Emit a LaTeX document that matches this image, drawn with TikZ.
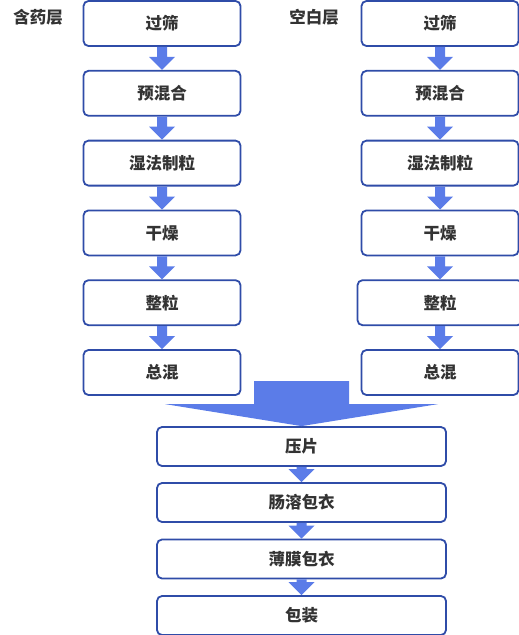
\documentclass[tikz,border=0pt]{standalone}
\usepackage{fontspec}
\newfontfamily\cjk{Noto Sans CJK SC}
\usetikzlibrary{calc}
\definecolor{arrowblue}{RGB}{91,124,232}
\definecolor{boxblue}{RGB}{47,76,168}
\definecolor{txt}{RGB}{51,51,51}
\tikzset{
  stepbox/.style={draw=boxblue, line width=1.8pt, rounded corners=5pt, fill=white,
    minimum width=157pt, minimum height=45pt, inner sep=0pt,
    font=\cjk\bfseries\fontsize{16.5}{18}\selectfont, text=txt},
  widebox/.style={stepbox, minimum width=289pt, minimum height=39pt},
  lbl/.style={font=\cjk\bfseries\fontsize{16.5}{18}\selectfont, text=txt, inner sep=0pt},
}
\newcommand{\blockarrow}[2]{%
  \fill[arrowblue] ($(#1.south)+(-5,0)$) -- ($(#1.south)+(5,0)$) --
    ($(#2.north)+(5,-13)$) -- ($(#2.north)+(13,-13)$) -- (#2.north) --
    ($(#2.north)+(-13,-13)$) -- ($(#2.north)+(-5,-13)$) -- cycle;}
\begin{document}
\begin{tikzpicture}[x=1pt,y=-1pt]
\useasboundingbox (0,0) rectangle (519,635);
\node[lbl] (la) at (38,17.5) {含药层};
\node[lbl] (lb) at (314,17.5) {空白层};
% left column
\node[stepbox] (a1) at (162,23.5) {过筛};
\node[stepbox] (a2) at (162,93.3) {预混合};
\node[stepbox] (a3) at (162,163.1) {湿法制粒};
\node[stepbox] (a4) at (162,232.9) {干燥};
\node[stepbox] (a5) at (162,302.7) {整粒};
\node[stepbox] (a6) at (162,372.5) {总混};
% right column
\node[stepbox] (b1) at (440,23.5) {过筛};
\node[stepbox] (b2) at (440,93.3) {预混合};
\node[stepbox] (b3) at (440,163.1) {湿法制粒};
\node[stepbox] (b4) at (440,232.9) {干燥};
\node[stepbox, minimum width=165pt] (b5) at (440,302.7) {整粒};
\node[stepbox] (b6) at (440,372.5) {总混};
% bottom
\node[widebox] (c1) at (301.5,446.5) {压片};
\node[widebox] (c2) at (301.5,502.5) {肠溶包衣};
\node[widebox] (c3) at (301.5,559) {薄膜包衣};
\node[widebox] (c4) at (301.5,615.5) {包装};
\blockarrow{a1}{a2}
\blockarrow{a2}{a3}
\blockarrow{a3}{a4}
\blockarrow{a4}{a5}
\blockarrow{a5}{a6}
\blockarrow{b1}{b2}
\blockarrow{b2}{b3}
\blockarrow{b3}{b4}
\blockarrow{b4}{b5}
\blockarrow{b5}{b6}
\blockarrow{c1}{c2}
\blockarrow{c2}{c3}
\blockarrow{c3}{c4}
% merge arrow
\fill[arrowblue] ($(c1.north)+(-47.5,-45)$) -- ($(c1.north)+(47.5,-45)$) --
  ($(c1.north)+(47.5,-22)$) -- ($(c1.north)+(136.5,-22)$) -- (c1.north) --
  ($(c1.north)+(-136.5,-22)$) -- ($(c1.north)+(-47.5,-22)$) -- cycle;
\end{tikzpicture}
\end{document}
